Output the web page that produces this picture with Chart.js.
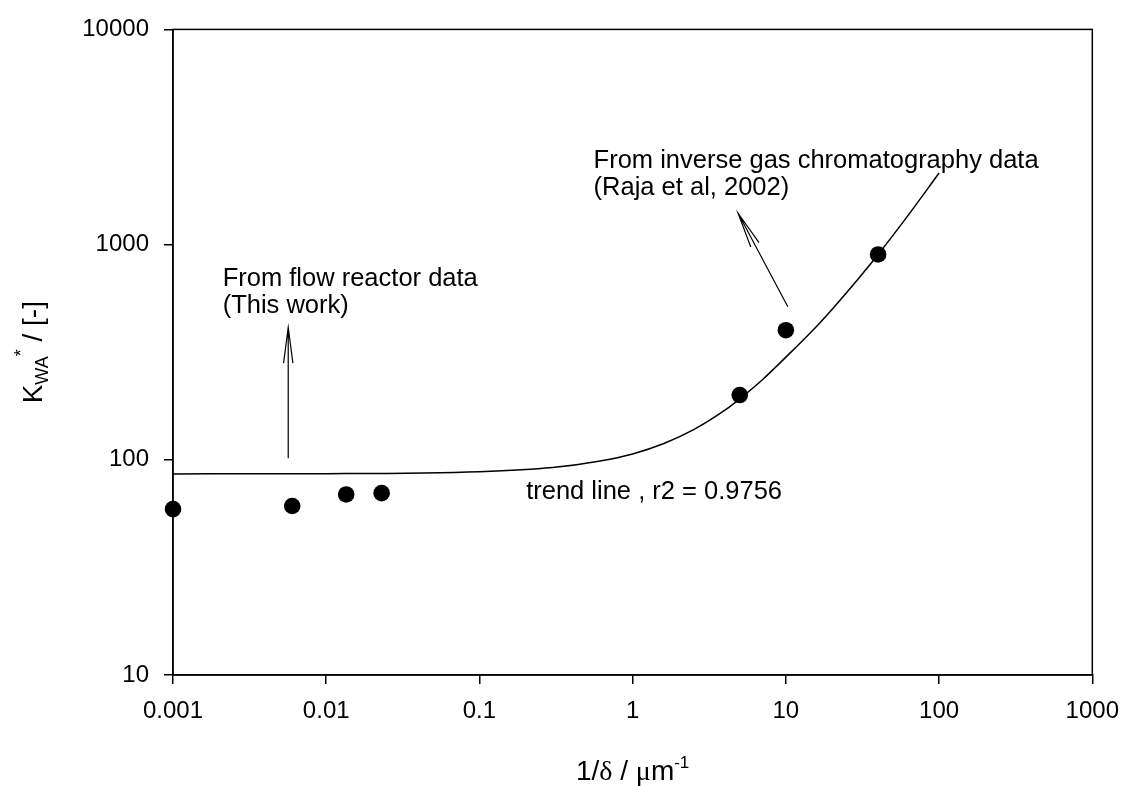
<!DOCTYPE html>
<html>
<head>
<meta charset="utf-8">
<script src="https://cdn.jsdelivr.net/npm/chart.js@4.4.1/dist/chart.umd.min.js"></script>
<style>
  html, body { margin: 0; padding: 0; background: #fff; }
  #wrap { width: 1132px; height: 786px; }
</style>
</head>
<body>
<div id="wrap"><canvas id="chart" width="1132" height="786"></canvas></div>
<script>
// tick labels
const xTicks = [0.001, 0.01, 0.1, 1, 10, 100, 1000];
const xTickLabels = ['0.001', '0.01', '0.1', '1', '10', '100', '1000'];
const yTicks = [10, 100, 1000, 10000];
const yTickLabels = ['10', '100', '1000', '10000'];

// measured points (flow reactor + inverse gas chromatography)
const pointsX = [0.001, 0.006, 0.0135, 0.023, 5, 10, 40];
const pointsY = [59, 61, 69, 70, 200, 400, 900];

// trend line
const trendX = [0.001, 0.01, 0.1, 0.3, 0.6, 1, 1.6, 2.5, 4, 5, 7, 10, 15, 20, 30, 40, 60, 100];
const trendY = [86, 86.2, 88, 92, 98.5, 106.5, 119, 138, 170, 192, 235, 300, 400, 500, 700, 900, 1310, 2150];

// annotations (anchor in data units)
const notes = [
  { lines: ['From flow reactor data', '(This work)'], x: 0.00211, y: 644 },
  { lines: ['From inverse gas chromatography data', '(Raja et al, 2002)'], x: 0.556, y: 2274 },
  { lines: ['trend line , r2 = 0.9756'], x: 0.2018, y: 66 }
];
const arrows = [
  { x0: 0.00565, y0: 101.7, x1: 0.00565, y1: 412 },
  { x0: 10.3, y0: 514, x1: 4.88, y1: 1399 }
];

const FONT = '"Liberation Sans", Arial, sans-serif';
const SERIF = '"Liberation Serif", "Times New Roman", serif';

const toXY = (xs, ys) => xs.map((v, i) => ({ x: v, y: ys[i] }));

// frame, annotations, axis titles
const decorations = {
  id: 'decorations',
  afterDraw(chart) {
    const ctx = chart.ctx;
    const a = chart.chartArea;
    const sx = chart.scales.x, sy = chart.scales.y;
    ctx.save();
    ctx.strokeStyle = '#000';
    ctx.lineWidth = 1.5;
    ctx.strokeRect(a.left, a.top, a.right - a.left, a.bottom - a.top);

    // arrows
    ctx.lineWidth = 1.2;
    arrows.forEach(ar => {
      const x0 = sx.getPixelForValue(ar.x0), y0 = sy.getPixelForValue(ar.y0);
      const x1 = sx.getPixelForValue(ar.x1), y1 = sy.getPixelForValue(ar.y1);
      const ang = Math.atan2(y0 - y1, x0 - x1);
      const len = 36, spread = 0.13;
      ctx.beginPath();
      ctx.moveTo(x0, y0); ctx.lineTo(x1, y1);
      ctx.moveTo(x1 + len * Math.cos(ang - spread), y1 + len * Math.sin(ang - spread));
      ctx.lineTo(x1, y1);
      ctx.lineTo(x1 + len * Math.cos(ang + spread), y1 + len * Math.sin(ang + spread));
      ctx.stroke();
    });

    // notes
    ctx.fillStyle = '#000';
    ctx.font = '25.5px ' + FONT;
    ctx.textAlign = 'left';
    ctx.textBaseline = 'alphabetic';
    notes.forEach(n => {
      const px = sx.getPixelForValue(n.x), py = sy.getPixelForValue(n.y);
      n.lines.forEach((t, i) => ctx.fillText(t, px, py + i * 27));
    });

    // x title: 1/δ / μm^-1
    const xc = (a.left + a.right) / 2, xb = 780;
    const parts = [
      { t: '1/', f: '28px ' + FONT, dy: 0 },
      { t: 'δ', f: '28px ' + SERIF, dy: 0 },
      { t: ' / ', f: '28px ' + FONT, dy: 0 },
      { t: 'μ', f: '28px ' + SERIF, dy: 0 },
      { t: 'm', f: '28px ' + FONT, dy: 0 },
      { t: '-1', f: '17px ' + FONT, dy: -12 }
    ];
    let w = 0;
    parts.forEach(p => { ctx.font = p.f; w += ctx.measureText(p.t).width; });
    let cx = xc - w / 2;
    parts.forEach(p => { ctx.font = p.f; ctx.fillText(p.t, cx, xb + p.dy); cx += ctx.measureText(p.t).width; });

    // y title: K_WA^* / [-]
    const yParts = [
      { t: 'K', f: '28px ' + FONT, dy: 0 },
      { t: 'WA', f: '18px ' + FONT, dy: 6 },
      { t: '*', f: '18px ' + FONT, dy: -15 },
      { t: ' / [-]', f: '28px ' + FONT, dy: 0 }
    ];
    ctx.translate(42, (a.top + a.bottom) / 2);
    ctx.rotate(-Math.PI / 2);
    w = 0;
    yParts.forEach(p => { ctx.font = p.f; w += ctx.measureText(p.t).width; });
    cx = -w / 2;
    yParts.forEach(p => { ctx.font = p.f; ctx.fillText(p.t, cx, p.dy); cx += ctx.measureText(p.t).width; });
    ctx.restore();
  }
};

new Chart(document.getElementById('chart'), {
  type: 'scatter',
  data: {
    datasets: [
      {
        data: toXY(pointsX, pointsY),
        showLine: false,
        pointRadius: 8.3,
        pointBackgroundColor: '#000',
        pointBorderColor: '#000',
        pointBorderWidth: 0,
        clip: false,
        order: 0
      },
      {
        data: toXY(trendX, trendY),
        showLine: true,
        pointRadius: 0,
        borderColor: '#000',
        borderWidth: 1.5,
        cubicInterpolationMode: 'monotone',
        clip: false,
        order: 1
      }
    ]
  },
  options: {
    responsive: false,
    animation: false,
    events: [],
    layout: { padding: { left: 0, right: 31.5, top: 25.7, bottom: 0 } },
    plugins: { legend: { display: false }, tooltip: { enabled: false } },
    scales: {
      x: {
        type: 'logarithmic',
        min: 0.001, max: 1000,
        afterBuildTicks: s => { s.ticks = xTicks.map(v => ({ value: v })); },
        afterFit: s => { s.height = 111; },
        ticks: {
          autoSkip: false, maxRotation: 0, padding: 13, color: '#000',
          font: { family: FONT, size: 24 },
          callback: (v, i) => xTickLabels[i]
        },
        grid: { drawOnChartArea: false, drawTicks: true, tickLength: 9, color: '#000', lineWidth: 1.5 },
        border: { display: true, color: '#000', width: 1.5 }
      },
      y: {
        type: 'logarithmic',
        min: 10, max: 10000,
        afterBuildTicks: s => { s.ticks = yTicks.map(v => ({ value: v })); },
        afterFit: s => { s.width = 173; },
        ticks: {
          autoSkip: false, padding: 15, color: '#000',
          font: { family: FONT, size: 24 },
          callback: (v, i) => yTickLabels[i]
        },
        grid: { drawOnChartArea: false, drawTicks: true, tickLength: 9, color: '#000', lineWidth: 1.5 },
        border: { display: true, color: '#000', width: 1.5 }
      }
    }
  },
  plugins: [decorations]
});
</script>
</body>
</html>
